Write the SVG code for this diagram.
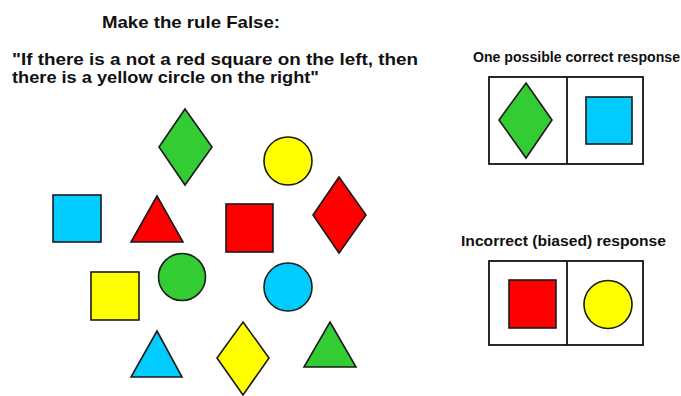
<svg xmlns="http://www.w3.org/2000/svg" width="681" height="396" viewBox="0 0 681 396">
<style>
.t{font-family:"Liberation Sans",Arial,sans-serif;font-weight:bold;fill:#111}
.s{stroke:#1a1a1a;stroke-width:1.6;stroke-linejoin:miter}
.g{fill:#33cc33}.c{fill:#00ccff}.r{fill:#ff0000}.y{fill:#ffff00}
.box{fill:#fff;stroke:#111;stroke-width:1.8}
</style>
<rect width="681" height="396" fill="#fff"/>
<g id="title"><text class="t" x="102" y="28" font-size="17" textLength="178" lengthAdjust="spacingAndGlyphs">Make the rule False:</text></g>
<g id="rule">
<text class="t" x="12" y="65" font-size="17" textLength="406" lengthAdjust="spacingAndGlyphs">"If there is a not a red square on the left, then</text>
<text class="t" x="12" y="83" font-size="17" textLength="307" lengthAdjust="spacingAndGlyphs">there is a yellow circle on the right"</text>
</g>
<g id="green-diamond"><polygon class="s g" points="185,109 212,147 185,185 159,147"/></g>
<g id="yellow-circle"><circle class="s y" cx="288" cy="161" r="24"/></g>
<g id="cyan-square"><rect class="s c" x="53" y="195" width="48" height="47"/></g>
<g id="red-triangle"><polygon class="s r" points="157,196 183,242 131,242"/></g>
<g id="red-square"><rect class="s r" x="226" y="204" width="47" height="48"/></g>
<g id="red-diamond"><polygon class="s r" points="339,177 366,215 339,253 313,215"/></g>
<g id="yellow-square"><rect class="s y" x="91" y="272" width="48" height="48"/></g>
<g id="green-circle"><circle class="s g" cx="182" cy="277" r="23.5"/></g>
<g id="cyan-circle"><circle class="s c" cx="288" cy="287" r="24"/></g>
<g id="cyan-triangle"><polygon class="s c" points="157,331 182,377 131,377"/></g>
<g id="yellow-diamond"><polygon class="s y" points="243,322 269,358 243,395 217,358"/></g>
<g id="green-triangle"><polygon class="s g" points="330,322 356,367 304,367"/></g>
<g id="correct-response">
<text class="t" x="473" y="62" font-size="14" textLength="207" lengthAdjust="spacingAndGlyphs">One possible correct response</text>
<rect class="box" x="489" y="77" width="154" height="87"/>
<line x1="567" y1="77" x2="567" y2="164" stroke="#111" stroke-width="1.8"/>
<polygon class="s g" points="526,83 552,120 526,158 499,120"/>
<rect class="s c" x="586" y="97" width="46" height="47"/>
</g>
<g id="incorrect-response">
<text class="t" x="461" y="246" font-size="14" textLength="205" lengthAdjust="spacingAndGlyphs">Incorrect (biased) response</text>
<rect class="box" x="489" y="261" width="154" height="84"/>
<line x1="567" y1="261" x2="567" y2="345" stroke="#111" stroke-width="1.8"/>
<rect class="s r" x="509" y="280" width="47" height="48"/>
<circle class="s y" cx="608" cy="304.5" r="24"/>
</g>
</svg>
